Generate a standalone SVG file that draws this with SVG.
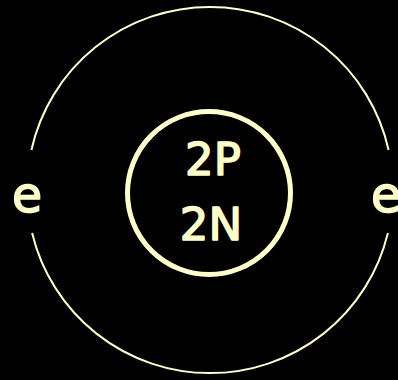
<svg xmlns="http://www.w3.org/2000/svg" width="398" height="380" viewBox="0 0 398 380">
<style>
.ln{fill:none;stroke:#FFFFC8;}
.t{fill:#FFFFC8;stroke:#FFFFC8;stroke-width:1.6;stroke-linejoin:round;font-family:"DejaVu Sans",sans-serif;text-anchor:middle;}
</style>
<rect width="398" height="380" fill="#000"/>
<g id="connectors">
<path class="ln" stroke-width="2" d="M31.4,150 A183,183 0 0 1 388.6,150"/>
<path class="ln" stroke-width="2" d="M32.1,233 A183,183 0 0 0 387.9,233"/>
</g>
<g id="nucleus">
<circle class="ln" cx="209" cy="193" r="81.5" stroke-width="5"/>
<text class="t" x="213" y="175" font-size="45">2P</text>
<text class="t" x="211" y="240" font-size="45">2N</text>
</g>
<g id="electron-left">
<text class="t" x="27" y="212" font-size="49">e</text>
</g>
<g id="electron-right">
<text class="t" x="386" y="212" font-size="49">e</text>
</g>
</svg>
